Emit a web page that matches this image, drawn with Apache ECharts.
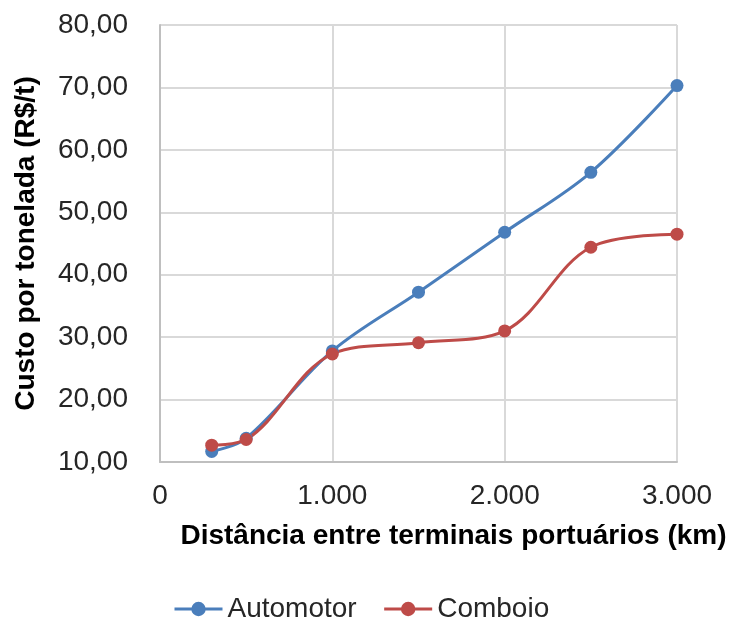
<!DOCTYPE html>
<html>
<head>
<meta charset="utf-8">
<script src="https://cdn.jsdelivr.net/npm/echarts@6/dist/echarts.min.js"></script>
<style>
  html, body { margin: 0; padding: 0; background: #ffffff; }
  #chart { width: 731px; height: 617px; }
</style>
</head>
<body>
<div id="chart"></div>
<script>
// Distance between port terminals (km)
const distances = [300, 500, 1000, 1500, 2000, 2500, 3000];
// Cost per tonne (R$/t)
const automotor = [11.7, 13.8, 27.8, 37.2, 46.8, 56.4, 70.3];
const comboio = [12.7, 13.6, 27.3, 29.1, 31.0, 44.4, 46.5];
const seriesNames = ['Automotor', 'Comboio'];
const xTitle = 'Distância entre terminais portuários (km)';
const yTitle = 'Custo por tonelada (R$/t)';

const pairs = ys => distances.map((d, i) => [d, ys[i]]);
const font = 'Liberation Sans, Arial, sans-serif';

const chart = echarts.init(document.getElementById('chart'), null, { renderer: 'canvas' });
chart.setOption({
  backgroundColor: '#ffffff',
  animation: false,
  grid: { left: 160, right: 54, top: 25, bottom: 155, containLabel: false },
  legend: {
    top: 590,
    left: 168,
    itemWidth: 48,
    itemHeight: 18,
    itemGap: 26,
    lineStyle: { width: 3 },
    textStyle: { fontFamily: font, fontSize: 28, color: '#262626', padding: [0, 0, 0, 0] },
    data: seriesNames
  },
  xAxis: {
    type: 'value',
    min: 0, max: 3000, interval: 1000,
    axisLine: { show: true, lineStyle: { color: '#bfbfbf', width: 2 } },
    axisTick: { show: false },
    splitLine: { show: true, lineStyle: { color: '#d9d9d9', width: 2 } },
    axisLabel: {
      margin: 20,
      fontFamily: font, fontSize: 28, color: '#262626',
      formatter: v => v === 0 ? '0' : v.toLocaleString('de-DE')
    },
    name: xTitle,
    nameLocation: 'middle',
    nameGap: 60,
    nameTextStyle: {
      fontFamily: font, fontSize: 28, fontWeight: 'bold', color: '#000000',
      padding: [0, 0, 0, 70]
    }
  },
  yAxis: {
    type: 'value',
    min: 10, max: 80, interval: 10,
    axisLine: { show: true, lineStyle: { color: '#bfbfbf', width: 2 } },
    axisTick: { show: false },
    splitLine: { show: true, lineStyle: { color: '#d9d9d9', width: 2 } },
    axisLabel: {
      margin: 32,
      fontFamily: font, fontSize: 28, color: '#262626',
      formatter: v => v.toFixed(2).replace('.', ',')
    },
    name: yTitle,
    nameLocation: 'middle',
    nameGap: 120,
    nameTextStyle: { fontFamily: font, fontSize: 28, fontWeight: 'bold', color: '#000000' }
  },
  series: [
    {
      name: seriesNames[0],
      type: 'line',
      data: pairs(automotor),
      smooth: 0.35,
      symbol: 'circle',
      symbolSize: 13,
      itemStyle: { color: '#4a7ebb' },
      lineStyle: { color: '#4a7ebb', width: 3 }
    },
    {
      name: seriesNames[1],
      type: 'line',
      data: pairs(comboio),
      smooth: 0.35,
      symbol: 'circle',
      symbolSize: 13,
      itemStyle: { color: '#be4b48' },
      lineStyle: { color: '#be4b48', width: 3 }
    }
  ]
});
</script>
</body>
</html>
